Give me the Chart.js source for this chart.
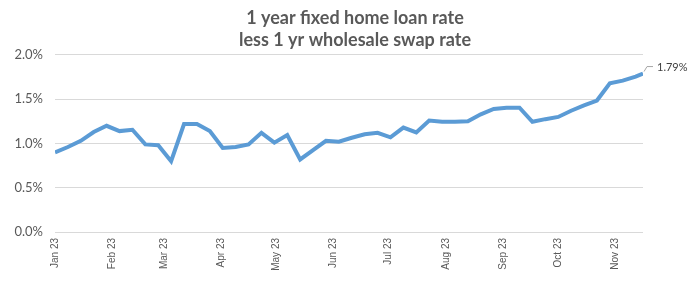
<!DOCTYPE html>
<html>
<head>
<meta charset="utf-8">
<script src="https://cdn.jsdelivr.net/npm/chart.js@4.4.1/dist/chart.umd.min.js"></script>
<style>
    body { margin: 0; background: #fff; }
    #wrap { width: 700px; height: 285px; }
</style>
</head>
<body>
<div id="wrap"><canvas id="rateChart"></canvas></div>
<script>
// Observation dates (weekly, last one a few days after)
const obsDates = [
    '2023-01-01', '2023-01-08', '2023-01-15', '2023-01-22', '2023-01-29',
    '2023-02-05', '2023-02-12', '2023-02-19', '2023-02-26',
    '2023-03-05', '2023-03-12', '2023-03-19', '2023-03-26',
    '2023-04-02', '2023-04-09', '2023-04-16', '2023-04-23', '2023-04-30',
    '2023-05-07', '2023-05-14', '2023-05-21', '2023-05-28',
    '2023-06-04', '2023-06-11', '2023-06-18', '2023-06-25',
    '2023-07-02', '2023-07-09', '2023-07-16', '2023-07-23', '2023-07-30',
    '2023-08-06', '2023-08-13', '2023-08-20', '2023-08-27',
    '2023-09-03', '2023-09-10', '2023-09-17', '2023-09-24',
    '2023-10-01', '2023-10-08', '2023-10-15', '2023-10-22', '2023-10-29',
    '2023-11-05', '2023-11-12', '2023-11-16'
];

// 1 yr fixed home loan rate less 1 yr swap rate (%)
const spreadValues = [
    0.90, 0.96, 1.03, 1.13, 1.20,
    1.14, 1.155, 0.99, 0.98,
    0.80, 1.22, 1.22, 1.14,
    0.95, 0.96, 0.99, 1.12, 1.01,
    1.095, 0.82, 0.925, 1.03,
    1.02, 1.065, 1.105, 1.12,
    1.07, 1.18, 1.125, 1.26, 1.245,
    1.245, 1.25, 1.33, 1.39,
    1.405, 1.405, 1.245, 1.275,
    1.30, 1.37, 1.43, 1.485, 1.68,
    1.71, 1.755, 1.79
];

// Month axis labels
const monthStarts = [
    '2023-01-01', '2023-02-01', '2023-03-01', '2023-04-01', '2023-05-01', '2023-06-01',
    '2023-07-01', '2023-08-01', '2023-09-01', '2023-10-01', '2023-11-01'
];
const monthLabels = ['Jan 23', 'Feb 23', 'Mar 23', 'Apr 23', 'May 23', 'Jun 23',
    'Jul 23', 'Aug 23', 'Sep 23', 'Oct 23', 'Nov 23'];

const yTicks = [0, 0.5, 1.0, 1.5, 2.0];

const DAY = 24 * 3600 * 1000;
const base = Date.parse(obsDates[0]);
function dayOf(s) {
    return (Date.parse(s) - base) / DAY;
}

const points = obsDates.map((d, i) => ({ x: dayOf(d), y: spreadValues[i] }));
const monthDays = monthStarts.map(dayOf);

// Draw the value label with a little leader line at the last point
const endLabel = {
    id: 'endLabel',
    afterDatasetsDraw(chart) {
        const meta = chart.getDatasetMeta(0);
        const last = meta.data[meta.data.length - 1];
        const ctx = chart.ctx;
        ctx.save();
        ctx.strokeStyle = '#a6a6a6';
        ctx.lineWidth = 1;
        ctx.beginPath();
        ctx.moveTo(last.x + 1, last.y - 2);
        ctx.lineTo(last.x + 4, last.y - 7);
        ctx.lineTo(last.x + 10, last.y - 7);
        ctx.stroke();
        ctx.fillStyle = '#404040';
        ctx.font = '11px Lato';
        ctx.textAlign = 'left';
        ctx.textBaseline = 'middle';
        ctx.fillText(spreadValues[spreadValues.length - 1].toFixed(2) + '%', last.x + 14, last.y - 6);
        ctx.restore();
    }
};

const ctx = document.getElementById('rateChart').getContext('2d');
const rateChart = new Chart(ctx, {
    type: 'line',
    data: {
        datasets: [{
            data: points,
            borderColor: '#5b9bd5',
            backgroundColor: '#5b9bd5',
            borderWidth: 4,
            pointRadius: 0,
            tension: 0,
            fill: false
        }]
    },
    options: {
        responsive: true,
        maintainAspectRatio: false,
        animation: false,
        layout: {
            padding: { left: 10, right: 0, top: 0, bottom: 0 }
        },
        plugins: {
            legend: { display: false },
            tooltip: { enabled: false },
            title: {
                display: true,
                text: ['1 year fixed home loan rate', 'less 1 yr wholesale swap rate'],
                color: '#595959',
                font: { family: 'Lato', size: 18, weight: 'bold', lineHeight: 1.222 },
                padding: { top: 7, bottom: 4 }
            }
        },
        scales: {
            x: {
                type: 'linear',
                min: points[0].x,
                max: points[points.length - 1].x,
                grid: { display: false, drawTicks: false },
                border: { display: false },
                afterBuildTicks: function(axis) {
                    axis.ticks = monthDays.map(v => ({ value: v }));
                },
                afterFit: function(axis) {
                    axis.height = 53;
                },
                ticks: {
                    autoSkip: false,
                    maxRotation: 90,
                    minRotation: 90,
                    padding: 6,
                    color: '#595959',
                    font: { family: 'Liberation Sans', size: 10 },
                    callback: function(value, index) {
                        return monthLabels[index];
                    }
                }
            },
            y: {
                min: yTicks[0],
                max: yTicks[yTicks.length - 1],
                grid: { color: '#d9d9d9', drawTicks: false },
                border: { display: false },
                afterBuildTicks: function(axis) {
                    axis.ticks = yTicks.map(v => ({ value: v }));
                },
                afterFit: function(axis) {
                    axis.width = 45;
                },
                ticks: {
                    padding: 12,
                    color: '#595959',
                    font: { family: 'Lato', size: 13 },
                    callback: function(value) {
                        return value.toFixed(1) + '%';
                    }
                }
            },
            yRight: {
                position: 'right',
                display: true,
                grid: { display: false, drawTicks: false },
                border: { display: false },
                ticks: { display: false },
                afterFit: function(axis) {
                    axis.width = 57;
                }
            }
        }
    },
    plugins: [endLabel]
});
</script>
</body>
</html>
